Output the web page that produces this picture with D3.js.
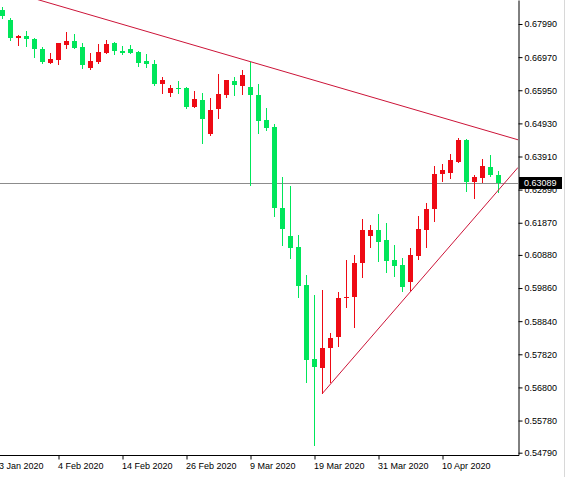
<!DOCTYPE html>
<html>
<head>
<meta charset="utf-8">
<script src="https://cdn.jsdelivr.net/npm/d3@7"></script>
<style>
  body { margin: 0; background: #fff; }
  svg { display: block; }
  text { font-family: "Liberation Sans", Arial, sans-serif; font-size: 9px; fill: #000; }
</style>
</head>
<body>
<svg width="566" height="477"></svg>
<script>
// daily bars, first date only carries the left axis label
var dates = ("2020-01-23 2020-01-24 2020-01-27 2020-01-28 2020-01-29 2020-01-30 2020-01-31 " +
  "2020-02-03 2020-02-04 2020-02-05 2020-02-06 2020-02-07 2020-02-10 2020-02-11 2020-02-12 2020-02-13 2020-02-14 " +
  "2020-02-17 2020-02-18 2020-02-19 2020-02-20 2020-02-21 2020-02-24 2020-02-25 2020-02-26 2020-02-27 2020-02-28 " +
  "2020-03-02 2020-03-03 2020-03-04 2020-03-05 2020-03-06 2020-03-09 2020-03-10 2020-03-11 2020-03-12 2020-03-13 " +
  "2020-03-16 2020-03-17 2020-03-18 2020-03-19 2020-03-20 2020-03-23 2020-03-24 2020-03-25 2020-03-26 2020-03-27 " +
  "2020-03-30 2020-03-31 2020-04-01 2020-04-02 2020-04-03 2020-04-06 2020-04-07 2020-04-08 2020-04-09 2020-04-10 " +
  "2020-04-13 2020-04-14 2020-04-15 2020-04-16 2020-04-17 2020-04-20 2020-04-21").split(" ");

// OHLC from 2020-01-24 on
var open = [0.68436,0.68113,0.67574,0.67630,0.67528,0.67211,0.66798,0.66882,0.67343,0.67467,
  0.67291,0.66626,0.66829,0.67106,0.67396,0.67159,0.67211,0.67119,0.66851,0.66758,
  0.66133,0.65856,0.66010,0.66010,0.65425,0.65650,0.64603,0.65364,0.65804,0.66235,
  0.66090,0.66041,0.65804,0.65034,0.64828,0.62334,0.61462,0.61114,0.59954,0.57666,
  0.57389,0.58004,0.58343,0.59544,0.59575,0.60622,0.61472,0.61647,0.61339,0.60723,
  0.60569,0.60055,0.60846,0.61647,0.62284,0.63362,0.63411,0.63750,0.64418,0.63134,
  0.63257,0.63596,0.63341];
var high = [0.68513,0.68190,0.67651,0.67774,0.67568,0.67291,0.67088,0.67414,0.67744,0.67673,
  0.67396,0.67106,0.67365,0.67497,0.67445,0.67313,0.67343,0.67168,0.67066,0.66882,
  0.66367,0.66112,0.66235,0.66059,0.65927,0.65856,0.65702,0.66450,0.66281,0.66367,
  0.66574,0.66829,0.66143,0.65413,0.64911,0.63270,0.63002,0.61493,0.60262,0.59646,
  0.59800,0.58466,0.59729,0.60723,0.60877,0.61986,0.61801,0.62140,0.61872,0.61185,
  0.60776,0.61084,0.62078,0.62469,0.63618,0.63679,0.63978,0.64471,0.64449,0.63341,
  0.63833,0.63956,0.63464];
var low = [0.68175,0.67497,0.67343,0.67322,0.66974,0.66798,0.66790,0.66768,0.67242,0.67251,
  0.66626,0.66604,0.66780,0.67088,0.67057,0.67066,0.67097,0.66706,0.66657,0.66112,
  0.65856,0.65782,0.65856,0.65394,0.65420,0.64317,0.64580,0.65086,0.65751,0.65804,
  0.65825,0.63033,0.64625,0.64726,0.62078,0.61185,0.60776,0.59575,0.56976,0.55027,
  0.56619,0.56976,0.58085,0.59285,0.58670,0.60209,0.61114,0.60702,0.60363,0.60231,
  0.59778,0.59800,0.60745,0.61133,0.61933,0.63156,0.63257,0.63732,0.62848,0.62623,
  0.63134,0.63310,0.62826];
var close = [0.68236,0.67559,0.67630,0.67519,0.67220,0.66820,0.66912,0.67396,0.67476,0.67260,
  0.66728,0.66851,0.67119,0.67365,0.67168,0.67106,0.67106,0.66798,0.66749,0.66133,
  0.66266,0.66010,0.65979,0.65425,0.65671,0.65056,0.65342,0.65835,0.66266,0.66112,
  0.66420,0.65804,0.65012,0.64797,0.62334,0.61678,0.61102,0.59923,0.57644,0.57419,
  0.58004,0.58312,0.59544,0.59593,0.60622,0.61647,0.61647,0.61287,0.60702,0.60539,
  0.59901,0.60877,0.61678,0.62294,0.63371,0.63494,0.63802,0.64418,0.63134,0.63288,
  0.63618,0.63341,0.63089];

var yTicks = [0.67990,0.66970,0.65950,0.64930,0.63910,0.62890,0.61870,0.60880,0.59860,0.58840,0.57820,0.56800,0.55780,0.54790];
var xTickDates = ["2020-01-23","2020-02-04","2020-02-14","2020-02-26","2020-03-09","2020-03-19","2020-03-31","2020-04-10"];
var lastPrice = 0.63089;

// trend lines: [date, price]
var upperLine = [["2020-03-09", 0.66829], ["2020-04-21", 0.64600]];
var lowerLine = [["2020-03-20", 0.56619], ["2020-04-21", 0.62879]];

var upColor = "#ee0a14", downColor = "#00e65a", lineColor = "#cc1438";

var svg = d3.select("svg");
var W = 518, H = 455;

var x = d3.scaleLinear().domain([0, dates.length - 1]).range([-5.5, 498.5]);
var y = d3.scaleLinear().domain([0.54719, 0.68729]).range([H, 0]);

svg.append("defs").append("clipPath").attr("id", "plot")
  .append("rect").attr("x", 0).attr("y", 0).attr("width", W).attr("height", H);

var plot = svg.append("g").attr("clip-path", "url(#plot)");

// last price line
var ly = Math.round(y(lastPrice)) + 0.5;
plot.append("line")
  .attr("x1", 0).attr("x2", W).attr("y1", ly).attr("y2", ly)
  .attr("stroke", "#8c8c8c").attr("stroke-width", 1);

var bars = d3.range(open.length).map(function(i) {
  return { i: i + 1, o: open[i], h: high[i], l: low[i], c: close[i] };
});

var candle = plot.selectAll(".candle").data(bars).enter().append("g").attr("class", "candle");

candle.append("line")
  .attr("x1", function(d) { return x(d.i); })
  .attr("x2", function(d) { return x(d.i); })
  .attr("y1", function(d) { return Math.round(y(d.h)); })
  .attr("y2", function(d) { return Math.round(y(d.l)) + 1; })
  .attr("stroke", function(d) { return d.c > d.o ? upColor : downColor; })
  .attr("stroke-width", 1);

candle.append("rect")
  .attr("x", function(d) { return Math.round(x(d.i) - 2.5); })
  .attr("width", 5)
  .attr("y", function(d) { return Math.round(y(Math.max(d.o, d.c))); })
  .attr("height", function(d) {
    return Math.max(1, Math.round(y(Math.min(d.o, d.c))) - Math.round(y(Math.max(d.o, d.c))));
  })
  .attr("fill", function(d) { return d.c > d.o ? upColor : downColor; });

// trend lines
function trend(pts, ray) {
  var x1 = x(dates.indexOf(pts[0][0])), y1 = y(pts[0][1]);
  var x2 = x(dates.indexOf(pts[1][0])), y2 = y(pts[1][1]);
  var k = (y2 - y1) / (x2 - x1);
  var xa = ray ? x1 : 0;
  plot.append("line")
    .attr("x1", xa).attr("y1", y1 + (xa - x1) * k)
    .attr("x2", W).attr("y2", y1 + (W - x1) * k)
    .attr("stroke", lineColor).attr("stroke-width", 1);
}
trend(upperLine, false);
trend(lowerLine, true);

// axes
var yAxis = svg.append("g")
  .attr("transform", "translate(" + (W + 0.5) + ",0)")
  .call(d3.axisRight(y).tickValues(yTicks).tickFormat(d3.format(".5f"))
    .tickSize(4).tickSizeOuter(0).tickPadding(2));
yAxis.select(".domain").attr("stroke", "#000");
yAxis.selectAll("text").style("font-family", null).attr("font-size", null);
yAxis.attr("font-family", null).attr("font-size", null);

var parse = d3.timeParse("%Y-%m-%d"), fmt = d3.timeFormat("%-d %b %Y");
var xAxis = svg.append("g")
  .attr("transform", "translate(0," + (H + 0.5) + ")")
  .call(d3.axisBottom(x).tickValues(xTickDates.map(function(d) { return dates.indexOf(d); }))
    .tickFormat(function(i) { return fmt(parse(dates[i])); })
    .tickSize(4).tickPadding(3));
xAxis.select(".domain").remove();
xAxis.selectAll("text").attr("text-anchor", "start").attr("x", -1);
xAxis.attr("font-family", null).attr("font-size", null);

svg.append("line")
  .attr("x1", 0).attr("x2", W + 1).attr("y1", H + 0.5).attr("y2", H + 0.5)
  .attr("stroke", "#000");

// last price tag
svg.append("rect")
  .attr("x", W + 1).attr("y", ly - 6.5).attr("width", 43).attr("height", 12)
  .attr("fill", "#000");
svg.append("text")
  .attr("x", W + 6).attr("y", ly).attr("dy", "0.32em")
  .style("fill", "#fff")
  .text(d3.format(".5f")(lastPrice));

// window edge
svg.append("line")
  .attr("x1", 564.5).attr("x2", 564.5).attr("y1", 0).attr("y2", 477)
  .attr("stroke", "#d8d8d8");
</script>
</body>
</html>
